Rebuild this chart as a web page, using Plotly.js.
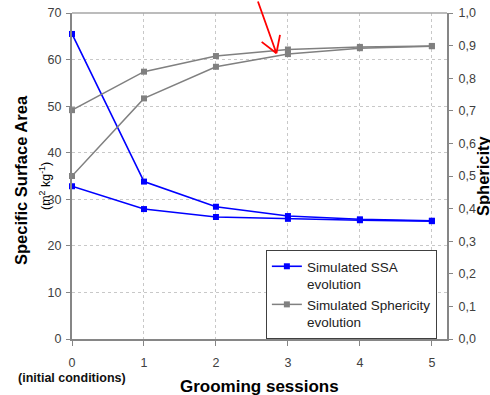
<!DOCTYPE html>
<html>
<head>
<meta charset="utf-8">
<script src="https://cdn.plot.ly/plotly-3.0.1.min.js"></script>
<style>html,body{margin:0;padding:0;background:#fff;}#chart{width:490px;height:395px;}</style>
</head>
<body>
<div id="chart"></div>
<script>
// Data
const sessions = [0, 1, 2, 3, 4, 5];
const sessionLabels = ["0", "1", "2", "3", "4", "5"];
const ssaRunA = [65.5, 33.8, 28.4, 26.4, 25.7, 25.4];
const ssaRunB = [32.8, 27.9, 26.2, 25.8, 25.5, 25.3];
const sphRunA = [0.702, 0.820, 0.868, 0.888, 0.896, 0.899];
const sphRunB = [0.500, 0.738, 0.835, 0.874, 0.892, 0.898];
const ssaTicks = [0, 10, 20, 30, 40, 50, 60, 70];
const sphTickVals = [0, 0.1, 0.2, 0.3, 0.4, 0.5, 0.6, 0.7, 0.8, 0.9, 1.0];
const sphTickText = ["0,0", "0,1", "0,2", "0,3", "0,4", "0,5", "0,6", "0,7", "0,8", "0,9", "1,0"];
const seriesNames = ["Simulated SSA<br>evolution", "Simulated Sphericity<br>evolution"];

const FONT = "Arial, 'Liberation Sans', sans-serif";
const AXIS_GRAY = "#868686";
const TICK_FONT = {family: FONT, size: 12.5, color: "#404040"};

const xs = sessions.concat([null], sessions);

const traces = [
  {
    x: xs, y: ssaRunA.concat([null], ssaRunB),
    name: seriesNames[0], type: "scatter", mode: "lines+markers",
    line: {color: "#0000ff", width: 1.6},
    marker: {symbol: "square", size: 6, color: "#0000ff"},
    connectgaps: false, yaxis: "y", cliponaxis: false
  },
  {
    x: xs, y: sphRunA.concat([null], sphRunB),
    name: seriesNames[1], type: "scatter", mode: "lines+markers",
    line: {color: "#808080", width: 1.5},
    marker: {symbol: "square", size: 6, color: "#808080"},
    connectgaps: false, yaxis: "y2", cliponaxis: false
  }
];

// arrow (annotation decoration, in data units of the SSA axis)
const arrowTip = [2.84, 61.35];
const arrowHeadLeft = [2.635, 63.8];
const arrowHeadRight = [2.89, 65.3];

const layout = {
  width: 490, height: 395,
  margin: {l: 72, r: 43, t: 13, b: 56, pad: 0},
  paper_bgcolor: "#ffffff", plot_bgcolor: "#ffffff",
  font: {family: FONT, color: "#333"},
  showlegend: true,
  legend: {
    x: 0.517, y: 0.273, xanchor: "left", yanchor: "top",
    bgcolor: "#ffffff", bordercolor: "#404040", borderwidth: 1,
    font: {family: FONT, size: 13.5, color: "#222"},
    valign: "top", tracegroupgap: 3, itemwidth: 30
  },
  xaxis: {
    range: [0, 5.21], tickvals: sessions, ticktext: sessionLabels,
    showline: true, linecolor: AXIS_GRAY, linewidth: 2,
    ticks: "outside", ticklen: 5, tickcolor: AXIS_GRAY, tickwidth: 1,
    showgrid: true, gridcolor: "#c8c8c8", griddash: "dot", gridwidth: 1,
    zeroline: false, tickfont: TICK_FONT, ticklabelstandoff: 6,
    fixedrange: true
  },
  yaxis: {
    range: [0, 70], tickvals: ssaTicks,
    showline: true, linecolor: AXIS_GRAY, linewidth: 2,
    ticks: "outside", ticklen: 4, tickcolor: AXIS_GRAY, tickwidth: 1,
    showgrid: true, gridcolor: "#c8c8c8", griddash: "dot", gridwidth: 1,
    zeroline: false, tickfont: TICK_FONT, ticklabelstandoff: 2,
    fixedrange: true
  },
  yaxis2: {
    range: [0, 1], tickvals: sphTickVals, ticktext: sphTickText,
    overlaying: "y", side: "right", anchor: "x",
    showline: true, linecolor: AXIS_GRAY, linewidth: 2,
    ticks: "outside", ticklen: 4, tickcolor: AXIS_GRAY, tickwidth: 1,
    showgrid: false, zeroline: false, tickfont: TICK_FONT, ticklabelstandoff: 3,
    fixedrange: true
  },
  yaxis3: {
    range: [0, 1], tickvals: sphTickVals, showticklabels: false,
    overlaying: "y", side: "right", anchor: "x",
    showline: false, ticks: "inside", ticklen: 4, tickcolor: AXIS_GRAY, tickwidth: 1,
    showgrid: false, zeroline: false, fixedrange: true
  },
  shapes: [
    {type: "line", xref: "paper", yref: "paper", x0: 0, x1: 1, y0: 1, y1: 1,
     line: {color: "#a6a6a6", width: 1.5}},
    {type: "line", xref: "x", yref: "y", x0: arrowHeadLeft[0], y0: arrowHeadLeft[1], x1: arrowTip[0], y1: arrowTip[1],
     line: {color: "#ff0000", width: 1.8}},
    {type: "line", xref: "x", yref: "y", x0: arrowHeadRight[0], y0: arrowHeadRight[1], x1: arrowTip[0], y1: arrowTip[1],
     line: {color: "#ff0000", width: 1.8}}
  ],
  annotations: [
    {text: "<b>Specific Surface Area</b>", xref: "paper", yref: "paper", x: 0, y: 0.5,
     xshift: -51, yshift: -4, textangle: -90, showarrow: false, xanchor: "center", yanchor: "middle",
     font: {family: FONT, size: 16.5, color: "#000"}},
    {text: "(m<sup>2</sup> kg<sup>-1</sup>)", xref: "paper", yref: "paper", x: 0, y: 0.5,
     xshift: -27, yshift: -10, textangle: -90, showarrow: false, xanchor: "center", yanchor: "middle",
     font: {family: FONT, size: 12.5, color: "#000"}},
    {text: "<b>Sphericity</b>", xref: "paper", yref: "paper", x: 1, y: 0.5,
     xshift: 36, yshift: 0, textangle: -90, showarrow: false, xanchor: "center", yanchor: "middle",
     font: {family: FONT, size: 16.5, color: "#000"}},
    {text: "<b>Grooming sessions</b>", xref: "paper", yref: "paper", x: 0.5, y: 0,
     yshift: -47, showarrow: false, xanchor: "center", yanchor: "middle",
     font: {family: FONT, size: 17, color: "#000"}},
    {text: "<b>(initial conditions)</b>", xref: "x", yref: "paper", x: 0, y: 0,
     yshift: -39, showarrow: false, xanchor: "center", yanchor: "middle",
     font: {family: FONT, size: 12.5, color: "#111"}},
    {text: "", xref: "x", yref: "y", x: arrowTip[0], y: arrowTip[1], ax: -19, ay: -58,
     showarrow: true, arrowhead: 0, arrowwidth: 1.8, arrowcolor: "#ff0000", standoff: 0, startstandoff: 0}
  ]
};

Plotly.newPlot("chart", traces, layout, {staticPlot: true, displayModeBar: false});
</script>
</body>
</html>
